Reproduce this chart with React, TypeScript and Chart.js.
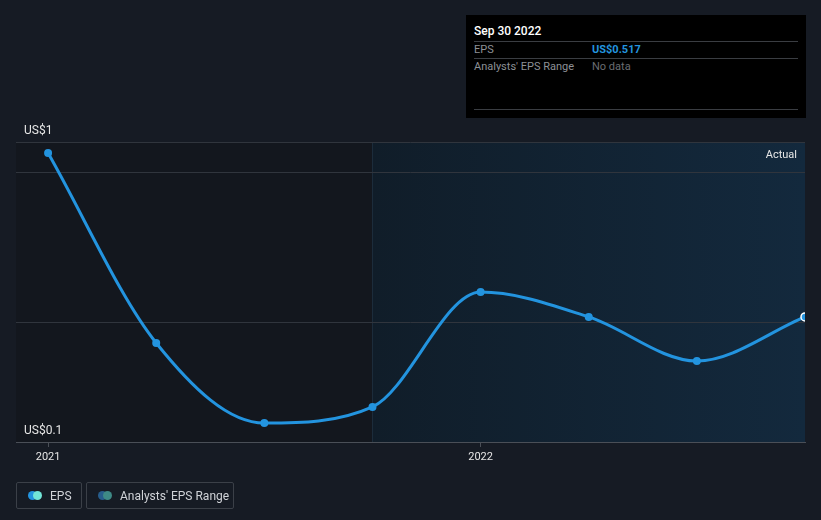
import React, { useEffect, useRef } from "react";
import { Chart, registerables } from "chart.js";

Chart.register(...registerables);

const periods = ["Dec 31 2020", "Mar 31 2021", "Jun 30 2021", "Sep 30 2021", "Dec 31 2021", "Mar 31 2022", "Jun 30 2022", "Sep 30 2022"];
const monthOffsets = [0, 3, 6, 9, 12, 15, 18, 21];
const eps = [1.063, 0.43, 0.163, 0.217, 0.6, 0.517, 0.37, 0.517];
const xTickValues = [0, 12];
const xTickLabels = ["2021", "2022"];
const yGridValues = [0.5, 1.0, 1.1];
const yMin = 0.1;
const yMax = 1.1;
const xMin = -0.89;
const xMax = 21;
const actualStart = 9;
const yLabelTop = "US$1";
const yLabelBottom = "US$0.1";

const FONT = "Roboto, 'Noto Sans', sans-serif";

const regionsPlugin = {
  id: "regions",
  beforeDraw(chart: any) {
    const { ctx, chartArea, scales } = chart;
    const xs = scales.x;
    const xa = xs.getPixelForValue(actualStart);
    ctx.save();
    ctx.fillStyle = "#13171e";
    ctx.fillRect(chartArea.left, chartArea.top, xa - chartArea.left, chartArea.bottom - chartArea.top);
    const g = ctx.createLinearGradient(xa, 0, chartArea.right, 0);
    g.addColorStop(0, "#101d29");
    g.addColorStop(1, "#13293d");
    ctx.fillStyle = g;
    ctx.fillRect(xa, chartArea.top, chartArea.right - xa, chartArea.bottom - chartArea.top);
    ctx.strokeStyle = "#1c2c3b";
    ctx.lineWidth = 1;
    ctx.beginPath();
    ctx.moveTo(Math.round(xa) + 0.5, chartArea.top);
    ctx.lineTo(Math.round(xa) + 0.5, chartArea.bottom);
    ctx.stroke();
    ctx.restore();
  },
  afterDraw(chart: any) {
    const { ctx, chartArea } = chart;
    ctx.save();
    ctx.font = `12px ${FONT}`;
    ctx.fillStyle = "#e6e6e6";
    ctx.textBaseline = "middle";
    ctx.textAlign = "left";
    ctx.fillText(yLabelTop, 24, 131);
    ctx.fillText(yLabelBottom, 24, 431);
    ctx.textAlign = "right";
    ctx.font = `11px ${FONT}`;
    ctx.fillText("Actual", chartArea.right - 8, 155);
    ctx.restore();
  },
};

export default function App() {
  const ref = useRef<HTMLCanvasElement>(null);
  useEffect(() => {
    document.body.style.margin = "0";
    const data = monthOffsets.map((m, i) => ({ x: m, y: eps[i] }));
    const chart = new Chart(ref.current!, {
      type: "line",
      data: {
        datasets: [
          {
            label: "EPS",
            data,
            borderColor: "#2394df",
            backgroundColor: "#2394df",
            borderWidth: 3,
            cubicInterpolationMode: "monotone",
            pointRadius: 4,
            pointBackgroundColor: "#2394df",
            pointBorderColor: data.map((_, i) => (i === data.length - 1 ? "#ffffff" : "#2394df")),
            pointBorderWidth: data.map((_, i) => (i === data.length - 1 ? 1.5 : 0)),
          } as any,
        ],
      },
      options: {
        animation: false,
        responsive: false,
        maintainAspectRatio: false,
        layout: { padding: { left: 16, right: 16, top: 142, bottom: 0 } },
        plugins: { legend: { display: false }, tooltip: { enabled: false } },
        scales: {
          x: {
            type: "linear",
            min: xMin,
            max: xMax,
            afterFit: (s: any) => {
              s.height = 78;
            },
            afterBuildTicks: (s: any) => {
              s.ticks = xTickValues.map((v) => ({ value: v }));
            },
            ticks: {
              color: "#e6e6e6",
              font: { family: FONT, size: 11 },
              padding: 4,
              maxRotation: 0,
              autoSkip: false,
              callback: (v: any) => {
                const i = xTickValues.indexOf(Number(v));
                return i >= 0 ? xTickLabels[i] : "";
              },
            },
            grid: { drawOnChartArea: false, drawTicks: true, tickLength: 5, color: "#4a4f57" },
            border: { display: true, color: "#4a4f57", width: 1 },
          },
          y: {
            type: "linear",
            min: yMin,
            max: yMax,
            afterFit: (s: any) => {
              s.width = 0;
            },
            afterBuildTicks: (s: any) => {
              s.ticks = yGridValues.map((v) => ({ value: v }));
            },
            ticks: { display: false },
            grid: { color: "#30353d", drawTicks: false, lineWidth: 1 },
            border: { display: false },
          },
        },
      },
      plugins: [regionsPlugin],
    });
    return () => chart.destroy();
  }, []);

  const legendBox: React.CSSProperties = {
    position: "absolute",
    top: 482,
    height: 27,
    border: "1px solid #3b4048",
    borderRadius: 2,
    boxSizing: "border-box",
    display: "flex",
    alignItems: "center",
    color: "#d0d3d8",
    fontSize: 12,
  };
  const dot = (c: string, left: number): React.CSSProperties => ({
    position: "absolute",
    left,
    top: 8,
    width: 9,
    height: 9,
    borderRadius: "50%",
    background: c,
  });

  return (
    <div style={{ position: "fixed", left: 0, top: 0, width: 821, height: 520, background: "#161b24", fontFamily: FONT, overflow: "hidden" }}>
      <canvas ref={ref} width={821} height={520} style={{ position: "absolute", left: 0, top: 0 }} />
      <div style={{ position: "absolute", left: 466, top: 15, width: 340, height: 103, background: "#000000" }}>
        <div style={{ position: "absolute", left: 8, top: 9, color: "#ffffff", fontSize: 12, fontWeight: 500 }}>{periods[periods.length - 1]}</div>
        <div style={{ position: "absolute", left: 8, right: 8, top: 26, borderTop: "1px solid #3a3d42" }} />
        <div style={{ position: "absolute", left: 8, top: 28, color: "#8d9096", fontSize: 11 }}>EPS</div>
        <div style={{ position: "absolute", left: 126, top: 28, color: "#2394df", fontSize: 11, fontWeight: 700 }}>US${eps[eps.length - 1].toFixed(3)}</div>
        <div style={{ position: "absolute", left: 8, right: 8, top: 43, borderTop: "1px solid #3a3d42" }} />
        <div style={{ position: "absolute", left: 8, top: 45, color: "#8d9096", fontSize: 11 }}>Analysts' EPS Range</div>
        <div style={{ position: "absolute", left: 126, top: 45, color: "#6a6d72", fontSize: 11 }}>No data</div>
        <div style={{ position: "absolute", left: 8, right: 8, top: 94, borderTop: "1px solid #3a3d42" }} />
      </div>
      <div style={{ ...legendBox, left: 16, width: 66 }}>
        <span style={dot("#2394df", 11)} />
        <span style={dot("#72e6d8", 16)} />
        <span style={{ position: "absolute", left: 33 }}>EPS</span>
      </div>
      <div style={{ ...legendBox, left: 86, width: 148 }}>
        <span style={dot("#275d8c", 11)} />
        <span style={dot("#3e8a86", 16)} />
        <span style={{ position: "absolute", left: 33 }}>Analysts' EPS Range</span>
      </div>
    </div>
  );
}
